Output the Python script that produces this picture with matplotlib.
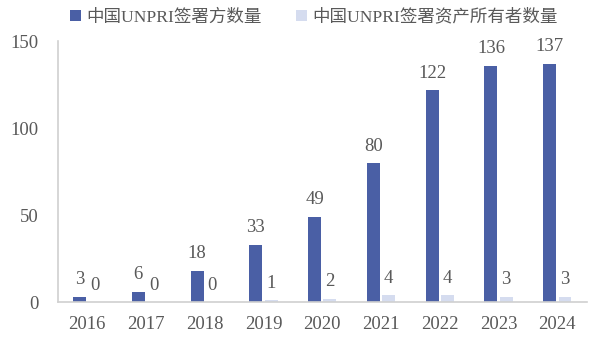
import matplotlib
import matplotlib.pyplot as plt
import numpy as np

matplotlib.use('Agg')

plt.rcParams['font.family'] = ['Liberation Serif', 'Noto Sans CJK SC']

years = ['2016', '2017', '2018', '2019', '2020', '2021', '2022', '2023', '2024']
signatories = [3, 6, 18, 33, 49, 80, 122, 136, 137]
asset_owners = [0, 0, 0, 1, 2, 4, 4, 3, 3]
series_names = ['中国UNPRI签署方数量', '中国UNPRI签署资产所有者数量']

blue = '#4a5fa5'
light = '#d5dcef'
text_gray = '#595959'
axis_gray = '#d0d0d0'

fig = plt.figure(figsize=(6.08, 3.52), dpi=100)
ax = fig.add_axes([0.095, 0.142, 0.87, 0.741])

x = np.arange(len(years))
w = 0.22
off = 0.13
b1 = ax.bar(x - off, signatories, w, color=blue, label=series_names[0])
b2 = ax.bar(x + off, asset_owners, w, color=light, label=series_names[1])

for bars, vals in ((b1, signatories), (b2, asset_owners)):
    for rect, v in zip(bars, vals):
        ax.annotate(str(v), (rect.get_x() + rect.get_width() / 2, rect.get_height()),
                    xytext=(0, 6), textcoords='offset points', ha='center', va='bottom',
                    fontsize=13.5, color=text_gray)

ax.set_xlim(-0.5, len(years) - 0.5)
ax.set_ylim(0, 150)
ax.set_yticks([0, 50, 100, 150])
ax.set_xticks(x)
ax.set_xticklabels(years)
ax.tick_params(axis='both', length=0, labelsize=13.5, colors=text_gray)
ax.tick_params(axis='x', pad=10)
ax.tick_params(axis='y', pad=14)

for s in ['top', 'right']:
    ax.spines[s].set_visible(False)
ax.spines['left'].set_color(axis_gray)
ax.spines['bottom'].set_color(axis_gray)
ax.spines['left'].set_linewidth(1.2)
ax.spines['bottom'].set_linewidth(1.2)

fig.legend(loc='upper center', bbox_to_anchor=(0.516, 1.02), ncol=2, frameon=False,
           fontsize=12.6, handlelength=0.6, handleheight=0.6, handletextpad=0.3,
           columnspacing=2.0, labelcolor=text_gray)

fig.savefig('out.png', dpi=100)
